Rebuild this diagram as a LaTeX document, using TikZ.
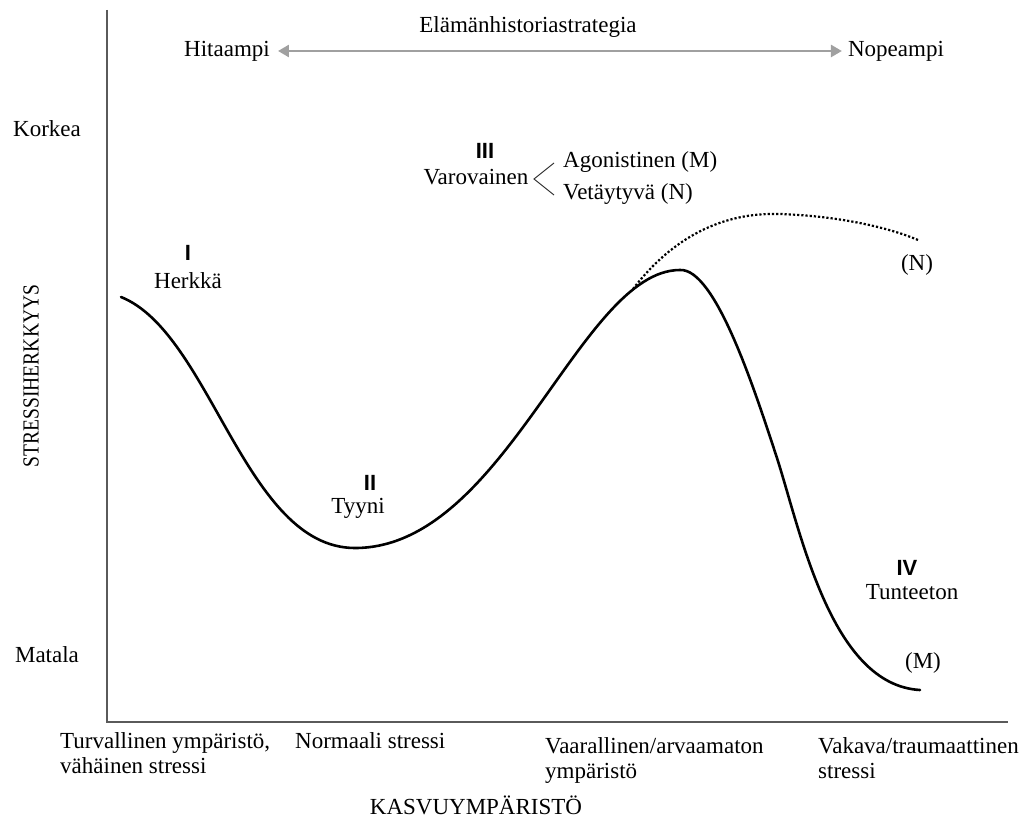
\documentclass[tikz,border=0pt]{standalone}
\usepackage{fontspec}
\usepackage{graphicx}
\setmainfont{Liberation Serif}
\newfontfamily\numfont{Liberation Sans}
\usetikzlibrary{arrows.meta}
\definecolor{axisgray}{HTML}{5A5A5A}
\definecolor{arrowgray}{HTML}{A0A0A0}
\begin{document}
\begin{tikzpicture}[x=1pt,y=-1pt,
  lbl/.style={inner sep=0pt,font=\fontsize{23}{26}\selectfont,text height=16pt,text depth=5pt},
  mlbl/.style={inner sep=0pt,font=\fontsize{23}{25}\selectfont,align=left,anchor=base west},
  num/.style={inner sep=0pt,font=\numfont\bfseries\fontsize{22}{24}\selectfont,text height=16pt,text depth=0pt},
  axisline/.style={draw=axisgray,line width=1.6pt},
  curve/.style={line width=2.6pt,line cap=round},
  dotcurve/.style={line width=2.2pt,dotted},
  bracket/.style={draw=black!80,line width=1pt}]
\useasboundingbox (0,0) rectangle (1027,824);
% top strategy arrow
\node[lbl] (title) at (528,27) {Elämänhistoriastrategia};
\node[lbl] (slow) at (227,51) {Hitaampi};
\node[lbl] (fast) at (896,51) {Nopeampi};
\draw[draw=arrowgray,line width=2.6pt,
  {Triangle[length=11pt,width=12pt,fill=arrowgray]}-{Triangle[length=11pt,width=12pt,fill=arrowgray]},
  shorten <=8pt,shorten >=6pt] (slow.east) -- (fast.west);
% axes
\coordinate (ytop) at (107,10);
\coordinate (origin) at (107,722);
\coordinate (xend) at (1008,722);
\draw[axisline] (ytop) -- (origin) -- (xend);
\node[lbl] (high) at (47,131) {Korkea};
\node[lbl] (low) at (47,657) {Matala};
\node[lbl,rotate=90] (ylab) at (33,376) {\scalebox{0.85}[1]{STRESSIHERKKYYS}};
% x labels (base = baseline of last line)
\node[mlbl] (x1) at (60,773) {Turvallinen ympäristö,\\vähäinen stressi};
\node[mlbl] (x2) at (295,748) {Normaali stressi};
\node[mlbl] (x3) at (545,778) {Vaarallinen/arvaamaton\\ympäristö};
\node[mlbl] (x4) at (818,778) {Vakava/traumaattinen\\stressi};
\node[lbl] (xlab) at (476,809) {KASVUYMPÄRISTÖ};
% main curve
\coordinate (c0) at (121,297);
\coordinate (cmin) at (355,548);
\coordinate (cmax) at (680,270);
\coordinate (cinf) at (776,455);
\coordinate (cend) at (920,690);
\coordinate (split) at (633,289);
\draw[curve] (c0) .. controls (211,333) and (245,548) .. (cmin)
  .. controls (505,548) and (580,270) .. (cmax)
  .. controls (715,268) and (754,388) .. (cinf)
  .. controls (800,528) and (830,685) .. (cend);
% dotted branch
\draw[dotcurve] (split) .. controls (672,238) and (722,212) .. (780,214)
  .. controls (840,216) and (890,228) .. (918,240);
% labels I - IV
\node[num] (n1) at (188,252) {I};
\node[lbl] (herkka) at (188,283) {Herkkä};
\node[num] (n2) at (370,482) {II};
\node[lbl] (tyyni) at (358,508) {Tyyni};
\node[num] (n3) at (485,150) {III};
\node[lbl] (varo) at (476,179) {Varovainen};
\node[lbl,anchor=west] (agon) at (563,162) {Agonistinen (M)};
\node[lbl,anchor=west] (veta) at (563,194) {Vetäytyvä (N)};
\coordinate (bt) at (554,163);
\coordinate (bv) at (534,179);
\coordinate (bb) at (554,195);
\draw[bracket] (bt) -- (bv) -- (bb);
\node[num] (n4) at (907,567) {IV};
\node[lbl] (tunt) at (912,594) {Tunteeton};
\node[lbl] (mlab) at (923,663) {(M)};
\node[lbl] (nlab) at (917,265) {(N)};
\end{tikzpicture}
\end{document}
